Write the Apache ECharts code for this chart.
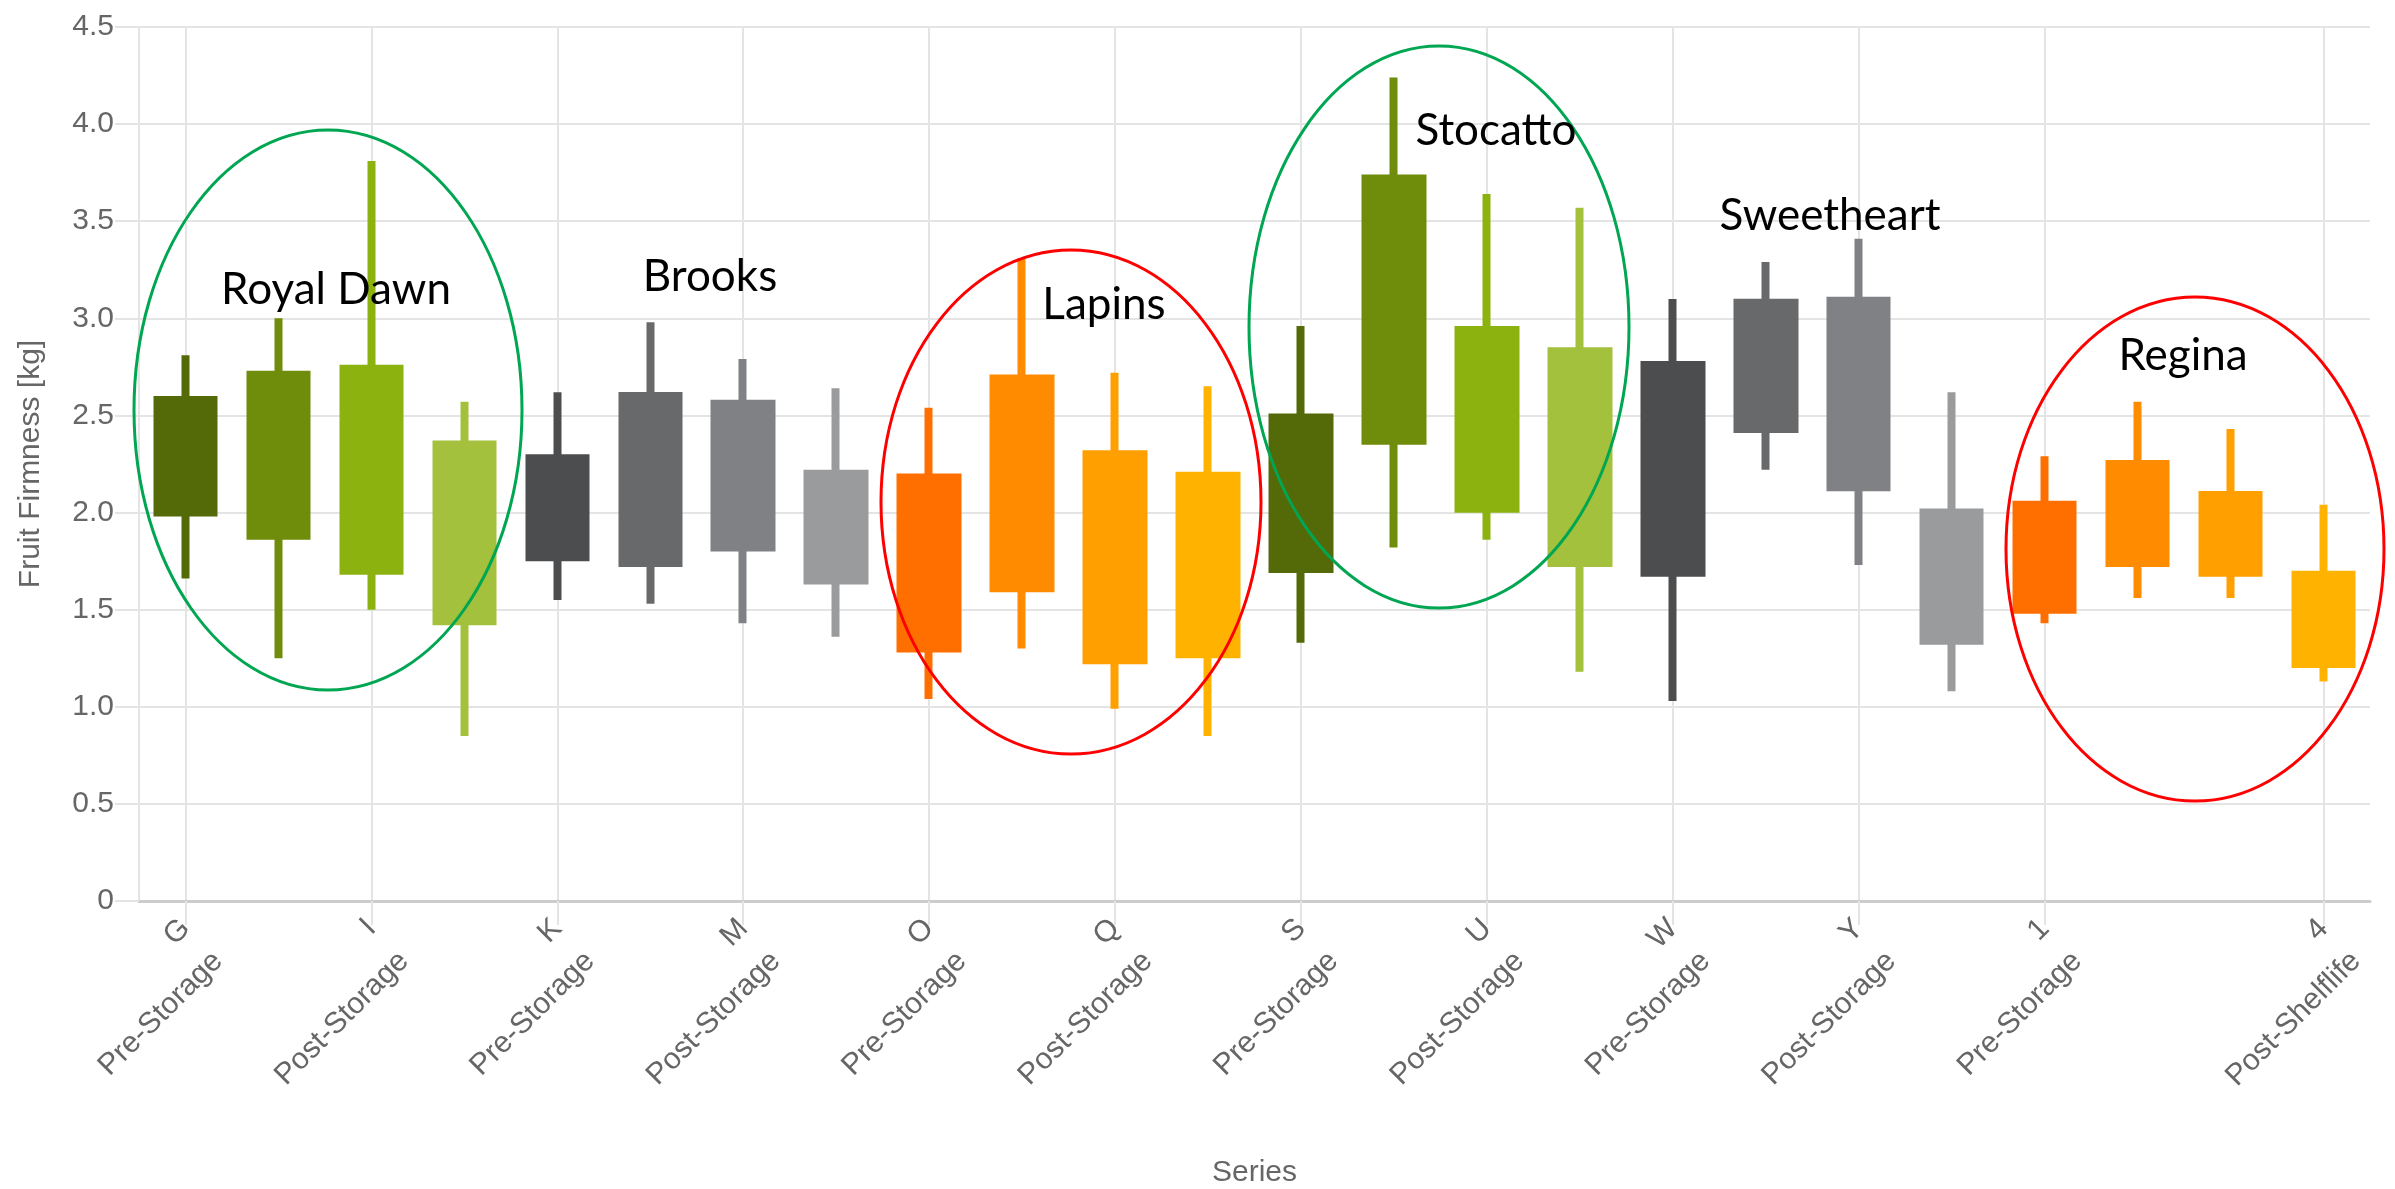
<!DOCTYPE html>
<html>
<head>
<meta charset="utf-8">
<script src="https://cdn.jsdelivr.net/npm/echarts@6/dist/echarts.min.js"></script>
<style>
html,body{margin:0;padding:0;background:#ffffff;}
#chart{width:2395px;height:1189px;}
</style>
</head>
<body>
<div id="chart"></div>
<script>
// ---------- data ----------
const categories = [
  'G\nPre-Storage', 'H\nPre-Shelflife', 'I\nPost-Storage', 'J\nPost-Shelflife',
  'K\nPre-Storage', 'L\nPre-Shelflife', 'M\nPost-Storage', 'N\nPost-Shelflife',
  'O\nPre-Storage', 'P\nPre-Shelflife', 'Q\nPost-Storage', 'R\nPost-Shelflife',
  'S\nPre-Storage', 'T\nPre-Shelflife', 'U\nPost-Storage', 'V\nPost-Shelflife',
  'W\nPre-Storage', 'X\nPre-Shelflife', 'Y\nPost-Storage', 'Z\nPost-Shelflife',
  '1\nPre-Storage', '2\nPre-Shelflife', '3\nPost-Storage', '4\nPost-Shelflife'
];
const whiskerLow  = [1.66, 1.25, 1.50, 0.85,  1.55, 1.53, 1.43, 1.36,  1.04, 1.30, 0.99, 0.85,  1.33, 1.82, 1.86, 1.18,  1.03, 2.22, 1.73, 1.08,  1.43, 1.56, 1.56, 1.13];
const boxLow      = [2.00, 1.88, 1.70, 1.44,  1.77, 1.74, 1.82, 1.65,  1.30, 1.61, 1.24, 1.27,  1.71, 2.37, 2.02, 1.74,  1.69, 2.43, 2.13, 1.34,  1.50, 1.74, 1.69, 1.22];
const boxHigh     = [2.58, 2.71, 2.74, 2.35,  2.28, 2.60, 2.56, 2.20,  2.18, 2.69, 2.30, 2.19,  2.49, 3.72, 2.94, 2.83,  2.76, 3.08, 3.09, 2.00,  2.04, 2.25, 2.09, 1.68];
const whiskerHigh = [2.81, 3.00, 3.81, 2.57,  2.62, 2.98, 2.79, 2.64,  2.54, 3.31, 2.72, 2.65,  2.96, 4.24, 3.64, 3.57,  3.10, 3.29, 3.41, 2.62,  2.29, 2.57, 2.43, 2.04];
const labeledIndices = [0, 2, 4, 6, 8, 10, 12, 14, 16, 18, 20, 23];
const cultivars = ['Royal Dawn', 'Brooks', 'Lapins', 'Stocatto', 'Sweetheart', 'Regina'];
const yMin = 0, yMax = 4.5, yStep = 0.5;

// ---------- styles ----------
const shades = {
  green:  ['#546a08', '#6f8c0a', '#8bb20e', '#a3c13d'],
  gray:   ['#4c4d4f', '#68696b', '#808184', '#9a9b9d'],
  orange: ['#ff6f00', '#ff8c00', '#ffa000', '#ffb300']
};
const cultivarShade = ['green', 'gray', 'orange', 'green', 'gray', 'orange'];
const gridColor = '#e4e4e4';
const textColor = '#666666';
const baseFont = 'Liberation Sans, Arial, Helvetica, sans-serif';

// annotation layout (pixels)
const noteLayout = [
  {x: 336,  y: 290},
  {x: 710,  y: 277},
  {x: 1104, y: 305},
  {x: 1496, y: 131},
  {x: 1830, y: 216},
  {x: 2183, y: 356}
];
const ellipses = [
  {cx: 328,  cy: 410, rx: 194, ry: 280, stroke: '#00a651'},
  {cx: 1071, cy: 502, rx: 190, ry: 252, stroke: '#ff0000'},
  {cx: 1439, cy: 327, rx: 190, ry: 281, stroke: '#00a651'},
  {cx: 2195, cy: 549, rx: 189, ry: 252, stroke: '#ff0000'}
];

const candleData = categories.map(function (c, i) {
  const col = shades[cultivarShade[Math.floor(i / 4)]][i % 4];
  return {
    value: [boxLow[i], boxHigh[i], whiskerLow[i], whiskerHigh[i]],
    itemStyle: {color: col, color0: col, borderColor: col, borderColor0: col}
  };
});

const helperPositions = Array.from({length: categories.length * 2 + 1}, function (_, k) { return k; });
function helperShown(k) {
  return k % 2 === 1 && labeledIndices.indexOf((k - 1) / 2) >= 0;
}

const graphics = [];
ellipses.forEach(function (e) {
  graphics.push({
    type: 'ellipse', z: 100, silent: true,
    shape: {cx: e.cx, cy: e.cy, rx: e.rx, ry: e.ry},
    style: {fill: 'none', stroke: e.stroke, lineWidth: 3}
  });
});
cultivars.forEach(function (name, i) {
  graphics.push({
    type: 'text', z: 101, silent: true,
    x: noteLayout[i].x, y: noteLayout[i].y,
    style: {
      text: name, fill: '#000000',
      font: '44px Lato, "Open Sans", sans-serif',
      align: 'center', verticalAlign: 'middle'
    }
  });
});

const chart = echarts.init(document.getElementById('chart'), null, {renderer: 'canvas'});
chart.setOption({
  animation: false,
  backgroundColor: '#ffffff',
  grid: {left: 139, right: 25, top: 27, bottom: 288, containLabel: false, outerBoundsMode: 'none'},
  xAxis: [
    {
      type: 'category',
      position: 'bottom',
      data: categories,
      boundaryGap: true,
      name: 'Series',
      nameLocation: 'middle',
      nameGap: 257,
      nameTextStyle: {fontSize: 30, color: textColor, fontFamily: baseFont},
      axisLine: {show: true, lineStyle: {color: '#cccccc', width: 3}},
      axisTick: {show: false},
      splitLine: {show: false},
      axisLabel: {
        interval: 0,
        hideOverlap: false,
        rotate: 45,
        margin: 23,
        fontSize: 30,
        lineHeight: 46,
        color: textColor,
        fontFamily: baseFont,
        formatter: function (v, index) {
          return labeledIndices.indexOf(index) >= 0 ? '\n' + v : '';
        }
      }
    },
    {
      type: 'category',
      position: 'bottom',
      data: helperPositions,
      boundaryGap: false,
      axisLine: {show: false},
      axisLabel: {show: false},
      axisTick: {show: true, interval: function (k) { return helperShown(k); }, length: 24, lineStyle: {color: gridColor, width: 2}},
      splitLine: {show: true, interval: function (k) { return helperShown(k); }, lineStyle: {color: gridColor, width: 2}}
    }
  ],
  yAxis: {
    type: 'value',
    min: yMin, max: yMax, interval: yStep,
    name: 'Fruit Firmness [kg]',
    nameLocation: 'middle',
    nameGap: 93,
    nameTextStyle: {fontSize: 30, color: textColor, fontFamily: baseFont},
    axisLine: {show: true, lineStyle: {color: gridColor, width: 2}},
    axisTick: {show: true, length: 24, lineStyle: {color: gridColor, width: 2}},
    splitLine: {show: true, lineStyle: {color: gridColor, width: 2}},
    axisLabel: {
      margin: 25, fontSize: 30, color: textColor, fontFamily: baseFont,
      formatter: function (v) { return v === 0 ? '0' : v.toFixed(1); }
    }
  },
  series: [{
    type: 'candlestick',
    xAxisIndex: 0, yAxisIndex: 0,
    barWidth: 57,
    itemStyle: {borderWidth: 8},
    data: candleData
  }],
  graphic: graphics
});
</script>
</body>
</html>
